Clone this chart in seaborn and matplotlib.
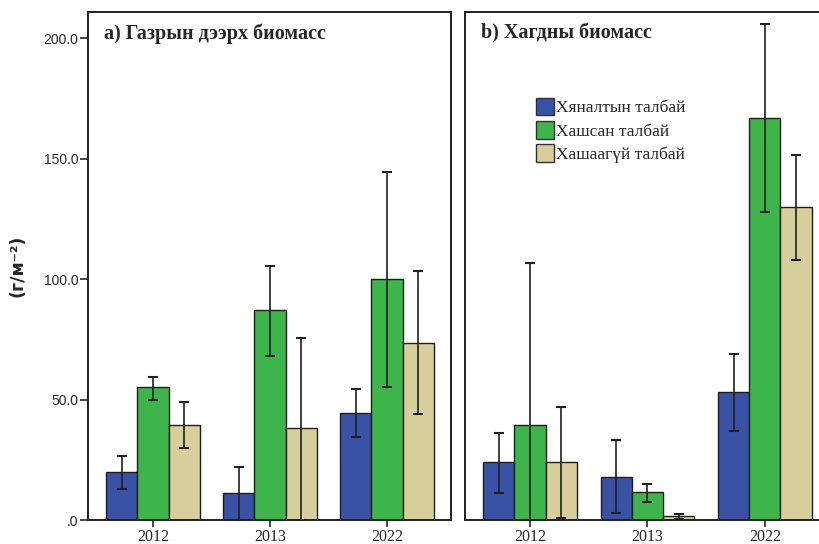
import matplotlib
matplotlib.use("Agg")
import matplotlib.pyplot as plt
import seaborn as sns
import numpy as np
import pandas as pd

years = ["2012", "2013", "2022"]
sites = ["Хяналтын талбай", "Хашсан талбай", "Хашаагүй талбай"]
colors = ["#3a52a6", "#3db54a", "#d6cf9c"]

# a) above-ground biomass: means, lower and upper error bar ends
above_control = [20.0, 11.0, 44.5]
above_control_lo = [13.0, 0.0, 34.5]
above_control_hi = [26.5, 22.0, 54.5]
above_fenced = [55.0, 87.0, 100.0]
above_fenced_lo = [50.0, 68.0, 55.0]
above_fenced_hi = [59.5, 105.5, 144.5]
above_open = [39.5, 38.0, 73.5]
above_open_lo = [30.0, 0.0, 44.0]
above_open_hi = [49.0, 75.5, 103.5]

# b) litter biomass
litter_control = [24.0, 18.0, 53.0]
litter_control_lo = [11.0, 3.0, 37.0]
litter_control_hi = [36.0, 33.0, 69.0]
litter_fenced = [39.5, 11.5, 167.0]
litter_fenced_lo = [0.0, 7.5, 128.0]
litter_fenced_hi = [106.5, 15.0, 206.0]
litter_open = [24.0, 1.5, 130.0]
litter_open_lo = [1.0, 0.5, 108.0]
litter_open_hi = [47.0, 2.5, 151.5]

ytick_values = [0, 50, 100, 150, 200]
ytick_labels = [".0", "50.0", "100.0", "150.0", "200.0"]


def build_frame(means, los, his):
    rows = []
    for site, m, lo, hi in zip(sites, means, los, his):
        for yr, v, l, h in zip(years, m, lo, hi):
            rows.append({"year": yr, "site": site, "value": v, "lo": l, "hi": h})
    return pd.DataFrame(rows)


df_a = build_frame([above_control, above_fenced, above_open],
                   [above_control_lo, above_fenced_lo, above_open_lo],
                   [above_control_hi, above_fenced_hi, above_open_hi])
df_b = build_frame([litter_control, litter_fenced, litter_open],
                   [litter_control_lo, litter_fenced_lo, litter_open_lo],
                   [litter_control_hi, litter_fenced_hi, litter_open_hi])

sns.set_style("white")
plt.rcParams["font.family"] = ["Liberation Serif", "DejaVu Serif"]

fig = plt.figure(figsize=(8.2, 5.44), dpi=100)
ax_a = fig.add_axes([88 / 820, 1 - 520 / 544, (451 - 88) / 820, 508 / 544])
ax_b = fig.add_axes([465 / 820, 1 - 520 / 544, (829 - 465) / 820, 508 / 544])


def draw_panel(ax, df, title):
    sns.barplot(data=df, x="year", y="value", hue="site", hue_order=sites,
                order=years, palette=colors, saturation=1, errorbar=None,
                width=0.8, edgecolor="#1e1e1e", linewidth=1.0, ax=ax)
    for container, site in zip(ax.containers, sites):
        sub = df[df["site"] == site].set_index("year").loc[years]
        xs = [p.get_x() + p.get_width() / 2 for p in container.patches]
        vals = sub["value"].to_numpy()
        err = np.vstack([vals - sub["lo"].to_numpy(), sub["hi"].to_numpy() - vals])
        ax.errorbar(xs, vals, yerr=err, fmt="none", ecolor="#202020",
                    elinewidth=1.2, capsize=3.5, capthick=1.5, zorder=5)
    ax.set_xlim(-0.555, 2.547)
    ax.set_ylim(0, 210.8)
    ax.set_xlabel("")
    ax.set_ylabel("")
    ax.get_legend().remove()
    ax.tick_params(axis="x", bottom=True, length=5, width=1.2, direction="out",
                   labelsize=11.5, pad=1.5)
    for lbl in ax.get_xticklabels():
        lbl.set_fontfamily("Liberation Serif")
    for sp in ax.spines.values():
        sp.set_linewidth(1.4)
        sp.set_color("#202020")
    ax.text(0.045, 0.978, title, transform=ax.transAxes, ha="left", va="top",
            fontsize=14.5, fontweight="bold", family="Liberation Serif")


draw_panel(ax_a, df_a, "a) Газрын дээрх биомасс")
draw_panel(ax_b, df_b, "b) Хагдны биомасс")

ax_a.set_yticks(ytick_values)
ax_a.set_yticklabels(ytick_labels, family="Liberation Sans", fontsize=10)
ax_a.tick_params(axis="y", left=True, length=6, width=1.2, pad=1)
ax_a.set_ylabel("(г/м⁻²)", family="DejaVu Sans", fontweight="bold",
                fontsize=12.5, labelpad=12)

ax_b.set_yticks([])

handles = [plt.Rectangle((0, 0), 1, 1, facecolor=c, edgecolor="#303030",
                         linewidth=1.0) for c in colors]
ax_b.legend(handles, sites, loc="upper left", bbox_to_anchor=(0.177, 0.845),
            frameon=False, handlelength=1.0, handleheight=1.2,
            handletextpad=0.15, labelspacing=0.25, borderaxespad=0,
            prop={"family": "Liberation Serif", "size": 12.5})

fig.savefig("out.png", dpi=100)
